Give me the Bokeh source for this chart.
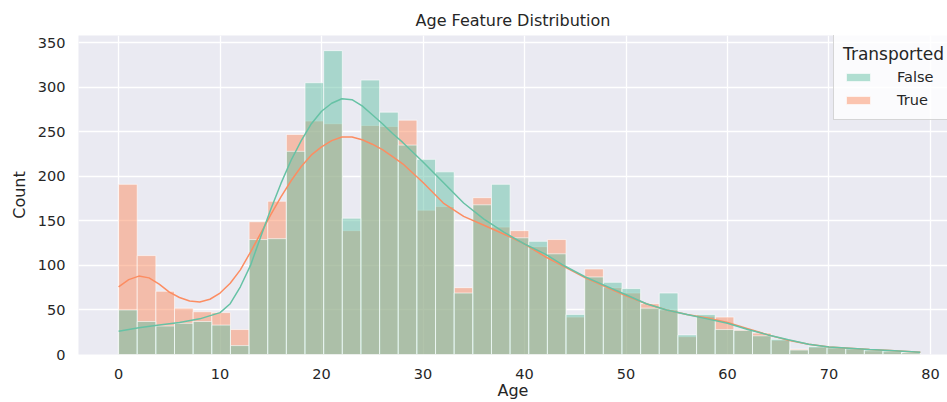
from bokeh.plotting import figure
from bokeh.models import Range1d, FixedTicker, Legend, LegendItem
from bokeh.embed import file_html
from bokeh.resources import INLINE

# ---- data ----
N_BINS = 43
AGE_MIN = 0
AGE_MAX = 79

false_counts = [50, 37, 32, 35, 37, 33, 10, 129, 130, 228, 305, 341, 153, 308, 272,
                235, 219, 205, 69, 168, 191, 131, 127, 113, 45, 87, 81, 74, 52, 69,
                22, 45, 28, 27, 21, 17, 5, 9, 8, 7, 5, 4, 2]
true_counts = [191, 111, 71, 52, 48, 47, 28, 149, 172, 247, 262, 259, 139, 257, 256,
               263, 162, 166, 75, 176, 143, 139, 121, 129, 42, 96, 75, 69, 57, 50,
               20, 43, 42, 28, 24, 16, 6, 8, 7, 6, 4, 3, 2]

kde_false_x = [0, 2, 4, 6, 8, 10, 11, 12, 13, 14, 15, 16, 17, 18, 19, 20, 21, 22, 23, 24,
               25, 26, 27, 28, 30, 32, 34, 36, 38, 40, 42, 44, 46, 48, 50, 52, 54, 56, 58,
               60, 62, 64, 66, 68, 70, 72, 74, 76, 79]
kde_false_y = [26, 30, 33, 36, 40, 47, 57, 76, 100, 132, 163, 192, 218, 240, 259, 273, 282,
               287, 286, 279, 269, 259, 248, 238, 216, 193, 170, 152, 137, 124, 113, 99,
               87, 77, 67, 57, 50, 45, 40, 35, 28, 22, 16.5, 11.5, 8.5, 7, 5.5, 4.5, 2.5]

kde_true_x = [0, 1, 2, 3, 4, 5, 6, 7, 8, 9, 10, 11, 12, 13, 14, 15, 16, 17, 18, 19, 20, 21,
              22, 23, 24, 25, 26, 27, 28, 30, 32, 34, 36, 38, 40, 42, 44, 46, 48, 50, 52,
              54, 56, 58, 60, 62, 64, 66, 68, 70, 72, 74, 76, 79]
kde_true_y = [76, 84, 88, 86, 79, 70, 64, 60, 59, 62, 69, 80, 95, 115, 136, 157, 177, 195,
              211, 224, 233, 240, 244, 244, 241, 236, 230, 222, 214, 193, 170, 155, 145,
              135, 124, 110, 98, 86, 76, 66, 57, 50, 45, 41, 36, 29, 22, 16, 11.5, 8.5,
              7, 5.5, 4.5, 2.5]

x_ticks = [0, 10, 20, 30, 40, 50, 60, 70, 80]
y_ticks = [0, 50, 100, 150, 200, 250, 300, 350]
hue_labels = ["False", "True"]

bin_edges = [AGE_MIN + (AGE_MAX - AGE_MIN) * i / N_BINS for i in range(N_BINS + 1)]
lefts = bin_edges[:-1]
rights = bin_edges[1:]

GREEN = "#66c2a5"
ORANGE = "#fc8d62"
TXT = "#262626"
FONT = "DejaVu Sans"

p = figure(width=947, height=402, output_backend="svg", toolbar_location=None,
           x_range=Range1d(-3.95, 81.68), y_range=Range1d(0, 358),
           min_border_left=78, min_border_right=0, min_border_top=35,
           min_border_bottom=47, background_fill_color="#EAEAF2",
           border_fill_color="white", outline_line_color=None)

p.title.text = "Age Feature Distribution"
p.title.align = "center"
p.title.text_font = FONT
p.title.text_font_size = "16px"
p.title.text_font_style = "normal"
p.title.text_color = TXT
p.title.standoff = 12

for g in (p.xgrid, p.ygrid):
    g.grid_line_color = "white"
    g.grid_line_width = 1.3
p.xaxis.ticker = FixedTicker(ticks=x_ticks)
p.yaxis.ticker = FixedTicker(ticks=y_ticks)

for ax in (p.xaxis, p.yaxis):
    ax.axis_line_color = None
    ax.major_tick_line_color = None
    ax.minor_tick_line_color = None
    ax.major_tick_out = 0
    ax.major_tick_in = 0
    ax.minor_tick_out = 0
    ax.minor_tick_in = 0
    ax.major_label_text_font = FONT
    ax.major_label_text_font_size = "14.5px"
    ax.major_label_text_color = TXT
    ax.axis_label_text_font = FONT
    ax.axis_label_text_font_size = "16px"
    ax.axis_label_text_font_style = "normal"
    ax.axis_label_text_color = TXT

p.xaxis.axis_label = "Age"
p.yaxis.axis_label = "Count"
p.xaxis.major_label_standoff = 14
p.yaxis.major_label_standoff = 13
p.xaxis.axis_label_standoff = -1
p.yaxis.axis_label_standoff = 6

q_true = p.quad(left=lefts, right=rights, top=true_counts, bottom=0,
                fill_color=ORANGE, fill_alpha=0.5, line_color="white",
                line_alpha=0.6, line_width=1)
q_false = p.quad(left=lefts, right=rights, top=false_counts, bottom=0,
                 fill_color=GREEN, fill_alpha=0.5, line_color="white",
                 line_alpha=0.6, line_width=1)

p.line(kde_true_x, kde_true_y, line_color=ORANGE, line_width=1.5)
p.line(kde_false_x, kde_false_y, line_color=GREEN, line_width=1.5)

legend = Legend(items=[LegendItem(label=hue_labels[0], renderers=[q_false]),
                       LegendItem(label=hue_labels[1], renderers=[q_true])],
                location=(755, 234), title="Transported")
legend.title_text_font = FONT
legend.title_text_font_size = "17px"
legend.title_text_font_style = "normal"
legend.title_text_color = TXT
legend.label_text_font = FONT
legend.label_text_font_size = "14.5px"
legend.label_text_color = TXT
legend.background_fill_color = "white"
legend.background_fill_alpha = 0.8
legend.border_line_color = "#cccccc"
legend.border_line_alpha = 0.8
legend.padding = 9
legend.spacing = 3
legend.margin = 0
legend.glyph_width = 30
legend.glyph_height = 10
legend.label_height = 20
legend.label_standoff = 24
legend.title_standoff = 3
p.add_layout(legend)

open("out.html", "w").write(file_html(p, INLINE))
